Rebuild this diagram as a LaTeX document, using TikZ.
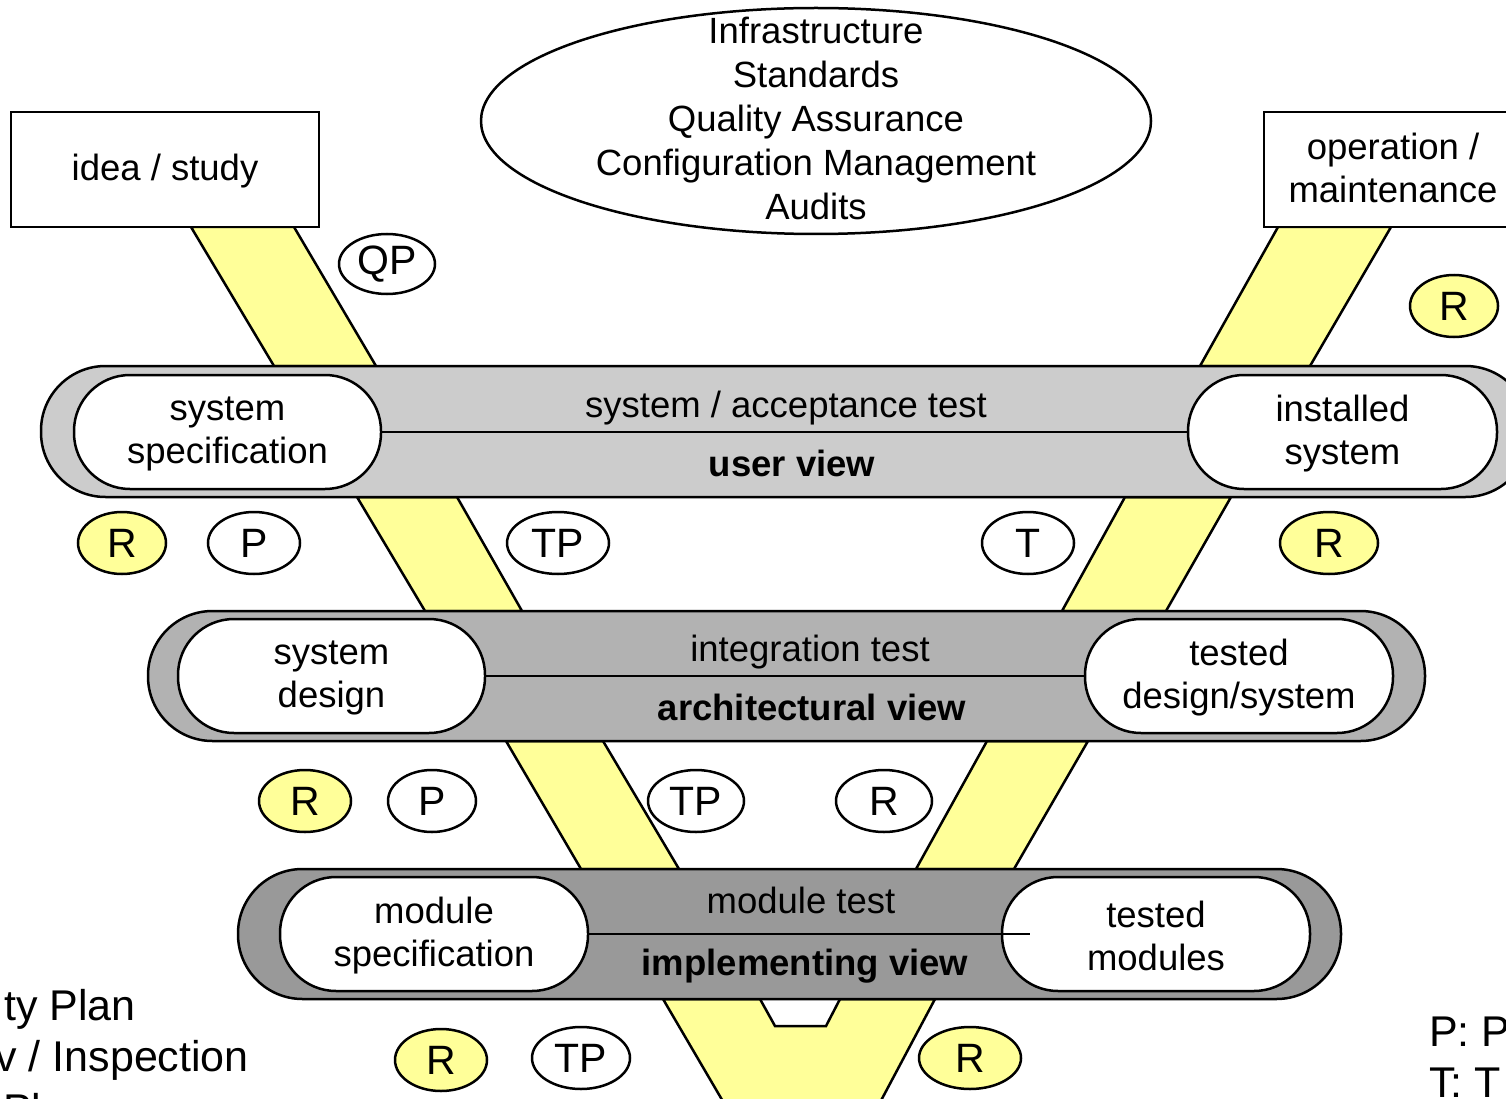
\documentclass[tikz,border=0pt]{standalone}
\usepackage{fontspec}
\setmainfont{Liberation Sans}
\usepackage{xcolor}
\usetikzlibrary{shapes.geometric}
\definecolor{vyellow}{HTML}{FFFF99}
\definecolor{grayone}{HTML}{CCCCCC}
\definecolor{graytwo}{HTML}{B2B2B2}
\definecolor{graythree}{HTML}{999999}
\tikzset{
	txt/.style={font=\fontsize{36.5}{43}\selectfont, align=center, inner sep=0pt},
	boldtxt/.style={txt, font=\fontsize{36.5}{43}\selectfont\bfseries},
	stagebox/.style={draw, fill=white, line width=2.5pt, inner sep=0pt, txt},
	pill/.style={draw, fill=white, line width=2.5pt, rounded corners=56pt,
			minimum width=308pt, minimum height=114pt, txt},
	level/.style={draw, line width=2.5pt, rounded corners=64.5pt, minimum height=130pt, inner sep=0pt},
	band/.style={fill=vyellow, draw, line width=2.5pt},
	doc/.style={ellipse, draw, fill=white, line width=2.5pt, minimum height=62pt,
			inner sep=0pt, font=\fontsize{41}{41}\selectfont},
	rev/.style={doc, fill=vyellow},
	legend/.style={inner sep=0pt, font=\fontsize{43}{43}\selectfont}
}

\begin{document}
\begin{tikzpicture}[x=1pt, y=-1pt]

	\useasboundingbox (0,0) rectangle (1506,1099);

	% Draw the yellow V
	\filldraw[band] (191,227) -- (274,366) -- (376,366) -- (294,227) -- cycle;
	\filldraw[band] (1278,227) -- (1200,366) -- (1310,366) -- (1391,227) -- cycle;
	\filldraw[band] (357,497) -- (425,611) -- (522,611) -- (457,497) -- cycle;
	\filldraw[band] (1125,497) -- (1062,611) -- (1166,611) -- (1231,497) -- cycle;
	\filldraw[band] (506,741) -- (581,869) -- (679,869) -- (603,741) -- cycle;
	\filldraw[band] (987,741) -- (916,869) -- (1014,869) -- (1088,741) -- cycle;
	\filldraw[band] (663,999) -- (760,999) -- (775,1026) -- (826,1026) -- (840,999)
		-- (935,999) -- (876,1110) -- (728,1110) -- cycle;

	% Draw the levels
	\node[level, fill=grayone, minimum width=1489pt, minimum height=131pt] (userlvl) at (785.5,431.5) {};
	\node[level, fill=graytwo, minimum width=1277pt] (archlvl) at (786.5,676) {};
	\node[level, fill=graythree, minimum width=1103pt] (impllvl) at (789.5,934) {};

	% Draw the start and end boxes
	\node[stagebox, minimum width=308pt, minimum height=115pt] (idea) at (165,169.5) {};
	\node[txt] (ideatxt) at (165,171) {idea / study};
	\node[stagebox, minimum width=258pt, minimum height=115pt] (operation) at (1393,169.5) {};
	\node[txt] (operationtxt) at (1393,168) {operation /\\maintenance};

	% Draw the pills
	\node[pill, minimum width=307pt] (sysspec) at (227.5,432) {};
	\node[pill, minimum width=309pt] (instsys) at (1342.5,432) {};
	\node[pill, minimum width=307pt] (sysdesign) at (331.5,676) {};
	\node[pill] (testdesign) at (1239,676) {};
	\node[pill] (modspec) at (434,934) {};
	\node[pill] (testmod) at (1156,934) {};
	\node[txt] at ([yshift=-2pt]sysspec.center) {system\\specification};
	\node[txt] at ([yshift=-2pt]instsys.center) {installed\\system};
	\node[txt] at ([yshift=-2pt]sysdesign.center) {system\\design};
	\node[txt] at ([yshift=-2pt]testdesign.center) {tested\\design/system};
	\node[txt] at ([yshift=-2pt]modspec.center) {module\\specification};
	\node[txt] at ([yshift=-2pt]testmod.center) {tested\\modules};

	% Draw the middle lines
	\draw[line width=2.5pt] (sysspec.east) -- (instsys.west);
	\draw[line width=2.5pt] (sysdesign.east) -- (testdesign.west);
	\draw[line width=2.5pt] (modspec.east) -- ([xshift=29pt]testmod.west);

	% Level texts
	\node[txt] (acctest) at (786,408) {system / acceptance test};
	\node[boldtxt] (userview) at (792,463) {user view};
	\node[txt] (inttest) at (810,652) {integration test};
	\node[boldtxt] (archview) at (812,707) {architectural view};
	\node[txt] (modtest) at (801,900) {module test};
	\node[boldtxt] (implview) at (805,966) {implementing view};

	% Draw the documents
	\node[doc, minimum width=96pt, minimum height=60pt] (qp) at (387,264) {QP};
	\node[rev, minimum width=88pt] (revop) at (1454,306) {R};
	\node[rev, minimum width=88pt] (revspec) at (122,543) {R};
	\node[doc, minimum width=92pt] (planspec) at (254,543) {P};
	\node[doc, minimum width=102pt] (tpspec) at (558,543) {TP};
	\node[doc, minimum width=92pt] (testinst) at (1028,543) {T};
	\node[rev, minimum width=98pt] (revinst) at (1329,543) {R};
	\node[rev, minimum width=92pt] (revdesign) at (305,801) {R};
	\node[doc, minimum width=88pt] (plandesign) at (432,801) {P};
	\node[doc, minimum width=96pt] (tpdesign) at (696,801) {TP};
	\node[doc, minimum width=96pt] (revtested) at (884,801) {R};
	\node[rev, minimum width=92pt] (revmod) at (441,1060) {R};
	\node[doc, minimum width=98pt] (tpmod) at (581,1058) {TP};
	\node[rev, minimum width=102pt] (revtmod) at (970,1058) {R};

	% Draw the support ellipse
	\node[ellipse, draw, fill=white, line width=2.5pt, minimum width=670pt, minimum height=226pt] (support) at (816,121) {};
	\node[txt, font=\fontsize{36.5}{44}\selectfont] (supporttxt) at (816,118) {Infrastructure\\Standards\\Quality Assurance\\Configuration Management\\Audits};

	% Legends
	\node[legend, anchor=base east] (legqp) at (136,1020) {ty Plan};
	\node[legend, anchor=base east] (legr) at (249,1071) {v / Inspection};
	\node[legend, anchor=base west] (legtp) at (3,1124) {Pl};
	\node[legend, anchor=base west] (legp) at (1429,1046) {P: P};
	\node[legend, anchor=base west] (legt) at (1429,1097) {T: T};

\end{tikzpicture}
\end{document}
